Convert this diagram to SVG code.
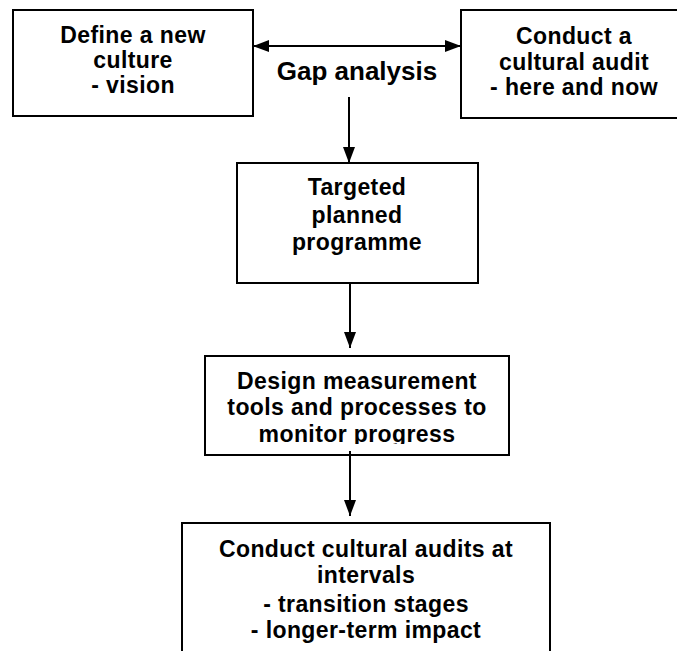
<svg xmlns="http://www.w3.org/2000/svg" width="677" height="651" viewBox="0 0 677 651">
<style>
.box{fill:#fff;stroke:#000;stroke-width:2}
.t{font-family:"Liberation Sans",Arial,sans-serif;font-weight:bold;font-size:23px;letter-spacing:0.4px;text-anchor:middle;fill:#000}
.gap{font-size:26px;letter-spacing:0}
.ln{stroke:#000;stroke-width:2;fill:none}
</style>
<defs>
<marker id="ah" viewBox="0 0 16 12" refX="16" refY="6" markerWidth="16" markerHeight="12" markerUnits="userSpaceOnUse" orient="auto-start-reverse">
<path d="M0,0 L16,6 L0,12 Z" fill="#000"/>
</marker>
<clipPath id="clipDesign"><rect x="205" y="356" width="304" height="88"/></clipPath>
</defs>
<rect width="677" height="651" fill="#fff"/>
<g id="node-define">
<rect class="box" x="13" y="10" width="240" height="106"/>
<text class="t" x="133" y="43">Define a new</text>
<text class="t" x="133" y="68">culture</text>
<text class="t" x="133" y="93">- vision</text>
</g>
<g id="node-audit">
<rect class="box" x="461" y="10" width="226" height="108"/>
<text class="t" x="574" y="44">Conduct a</text>
<text class="t" x="574" y="70">cultural audit</text>
<text class="t" x="574" y="95">- here and now</text>
</g>
<g id="label-gap">
<text class="t gap" x="357" y="80">Gap analysis</text>
</g>
<g id="node-targeted">
<rect class="box" x="237" y="163" width="241" height="120"/>
<text class="t" x="357" y="195">Targeted</text>
<text class="t" x="357" y="223">planned</text>
<text class="t" x="357" y="250">programme</text>
</g>
<g id="node-design">
<rect class="box" x="205" y="356" width="304" height="99"/>
<g clip-path="url(#clipDesign)">
<text class="t" x="357" y="389">Design measurement</text>
<text class="t" x="357" y="415">tools and processes to</text>
<text class="t" x="357" y="442">monitor progress</text>
</g>
</g>
<g id="node-conduct-intervals">
<rect class="box" x="182" y="523" width="368" height="140"/>
<text class="t" x="366" y="557">Conduct cultural audits at</text>
<text class="t" x="366" y="583">intervals</text>
<text class="t" x="366" y="612">- transition stages</text>
<text class="t" x="366" y="638">- longer-term impact</text>
</g>
<g id="connectors">
<line class="ln" x1="253" y1="46" x2="461" y2="46" marker-start="url(#ah)" marker-end="url(#ah)"/>
<line class="ln" x1="349" y1="97" x2="349" y2="163" marker-end="url(#ah)"/>
<line class="ln" x1="350" y1="283" x2="350" y2="348" marker-end="url(#ah)"/>
<line class="ln" x1="350" y1="451" x2="350" y2="516" marker-end="url(#ah)"/>
</g>
</svg>
